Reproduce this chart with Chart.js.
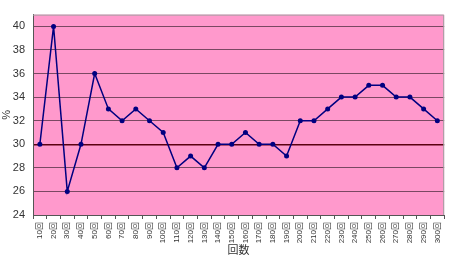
<!DOCTYPE html>
<html>
<head>
<meta charset="utf-8">
<script src="https://cdn.jsdelivr.net/npm/chart.js@4"></script>
<style>
  html, body { margin: 0; padding: 0; background: #fff; }
  #wrap { width: 450px; height: 257px; }
</style>
</head>
<body>
<div id="wrap"><canvas id="chart" width="450" height="257"></canvas></div>
<script>
//categories (10回 ... 300回)
const rounds = [10, 20, 30, 40, 50, 60, 70, 80, 90, 100, 110, 120, 130, 140, 150,
  160, 170, 180, 190, 200, 210, 220, 230, 240, 250, 260, 270, 280, 290, 300];
const xlabels = rounds.map((r) => r + "回");
//percent values
const percent = [30, 40, 26, 30, 36, 33, 32, 33, 32, 31, 28, 29, 28, 30, 30,
  31, 30, 30, 29, 32, 32, 33, 34, 34, 35, 35, 34, 34, 33, 32];
const yTicks = [24, 26, 28, 30, 32, 34, 36, 38, 40];

//pink plot background + grey frame on top/right
const plotFrame = {
  id: "plotFrame",
  beforeDraw(chart) {
    const { ctx, chartArea: a } = chart;
    ctx.save();
    ctx.fillStyle = "#ff99cc";
    ctx.fillRect(a.left, a.top, a.right - a.left, a.bottom - a.top);
    ctx.restore();
  },
  afterDraw(chart) {
    const { ctx, chartArea: a } = chart;
    ctx.save();
    ctx.strokeStyle = "#a0a0a0";
    ctx.lineWidth = 1;
    ctx.beginPath();
    ctx.moveTo(a.left, a.top + 0.5);
    ctx.lineTo(a.right - 0.5, a.top + 0.5);
    ctx.lineTo(a.right - 0.5, a.bottom);
    ctx.stroke();
    ctx.restore();
  },
};

new Chart(document.getElementById("chart"), {
  type: "line",
  plugins: [plotFrame],
  data: {
    labels: xlabels,
    datasets: [
      {
        data: percent,
        borderColor: "#000080",
        backgroundColor: "#000080",
        borderWidth: 1.5,
        pointRadius: 2.5,
        pointBorderWidth: 0,
        tension: 0,
      },
    ],
  },
  options: {
    responsive: false,
    animation: false,
    layout: { padding: { top: 12, right: 4, left: 0, bottom: 0 } },
    plugins: { legend: { display: false }, tooltip: { enabled: false } },
    scales: {
      x: {
        offset: true,
        grid: {
          offset: true,
          drawOnChartArea: false,
          tickLength: 4,
          color: "#555555",
        },
        border: { color: "#555555", width: 1 },
        ticks: {
          minRotation: 90,
          maxRotation: 90,
          autoSkip: false,
          padding: 3,
          color: "#333333",
          font: { family: "'Liberation Sans', 'Noto Sans CJK JP'", size: 8 },
        },
        title: {
          display: true,
          text: "回数",
          color: "#333333",
          padding: { top: 0, bottom: 1 },
          font: { family: "'Noto Sans CJK JP'", size: 11 },
        },
        afterFit: (scale) => { scale.height = 42; },
      },
      y: {
        min: 24,
        max: 41,
        afterBuildTicks: (scale) => {
          scale.ticks = yTicks.map((v) => ({ value: v }));
        },
        grid: {
          tickLength: 0,
          color: (c) => (c.tick && c.tick.value === 30 ? "#5a0010" : "#7a4862"),
          lineWidth: (c) => (c.tick && c.tick.value === 30 ? 1.5 : 1),
        },
        border: { color: "#555555", width: 1 },
        ticks: {
          padding: 8,
          color: "#333333",
          font: { family: "'Liberation Sans'", size: 11 },
        },
        title: {
          display: true,
          text: "%",
          color: "#333333",
          padding: { top: 0, bottom: 0 },
          font: { family: "'Liberation Sans'", size: 11 },
        },
        afterFit: (scale) => { scale.width = 33; },
      },
    },
  },
});
</script>
</body>
</html>
